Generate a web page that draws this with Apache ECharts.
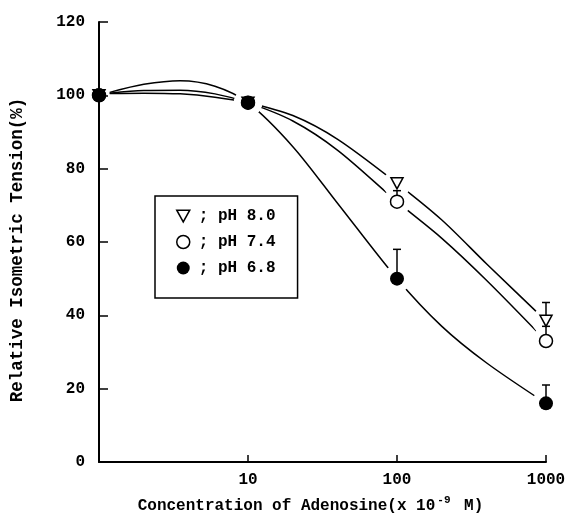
<!DOCTYPE html>
<html>
<head>
<meta charset="utf-8">
<script src="https://cdn.jsdelivr.net/npm/echarts@6/dist/echarts.min.js"></script>
<style>
  html, body { margin: 0; padding: 0; background: #fff; }
  #chart { width: 570px; height: 524px; }
</style>
</head>
<body>
<div id="chart"></div>
<script>
// measured points
const conc = [1, 10, 100, 1000];
const ph80 = [100, 98, 76, 38.5];
const ph74 = [100, 98, 71, 33];
const ph68 = [100, 98, 50, 16];
// upper end of the error bars (null = none drawn)
const ph80Err = [null, null, null, 43.5];
const ph74Err = [null, null, 74, 37];
const ph68Err = [null, null, 58, 21];

// fitted curves
const curveX = [1.18, 2, 3.5, 6, 10, 20, 40, 100, 200, 400, 1000];
const curve80 = [100.5, 100.6, 100.4, 99.5, 98, 94.5, 88, 76, 66, 54, 38.5];
const curve74 = [100.6, 101.3, 101.4, 100.4, 98, 93, 85, 71, 61, 49.5, 33];
const curve68 = [100.8, 103, 104, 102.5, 98, 86, 70.5, 50, 37, 27, 16];

const yTicks = [0, 20, 40, 60, 80, 100, 120];

const FONT = 'Liberation Mono';
const zip = (xs, ys) => xs.map((x, i) => [x, ys[i]]);
const errData = (ys, tops) => conc.map((x, i) => [x, ys[i], tops[i]]).filter(d => d[2] != null);

const chart = echarts.init(document.getElementById('chart'));

function curve(name, ys) {
  return {
    type: 'line', name: name, data: zip(curveX, ys), smooth: 0.3,
    showSymbol: false, symbol: 'none', silent: true, z: 2,
    lineStyle: { color: '#000', width: 1.5 }
  };
}
function mask(ys) {
  // white halo so the curves stop short of the markers
  return {
    type: 'scatter', data: zip(conc, ys).slice(1), symbol: 'circle', symbolSize: 28,
    itemStyle: { color: '#fff', opacity: 1 }, silent: true, z: 3
  };
}
function errBars(ys, tops) {
  return {
    type: 'custom', data: errData(ys, tops), z: 4, silent: true,
    renderItem: function (params, api) {
      const p0 = api.coord([api.value(0), api.value(1)]);
      const p1 = api.coord([api.value(0), api.value(2)]);
      const st = { stroke: '#000', lineWidth: 1.5 };
      return {
        type: 'group', children: [
          { type: 'line', shape: { x1: p0[0], y1: p0[1], x2: p1[0], y2: p1[1] }, style: st },
          { type: 'line', shape: { x1: p1[0] - 4, y1: p1[1], x2: p1[0] + 4, y2: p1[1] }, style: st }
        ]
      };
    }
  };
}

chart.setOption({
  animation: false,
  backgroundColor: '#fff',
  grid: { left: 99, right: 24, top: 22, bottom: 62 },
  legend: {
    left: 155, top: 196, orient: 'vertical', selectedMode: false,
    borderColor: '#000', borderWidth: 1.5, padding: [12, 22, 22, 21],
    itemWidth: 13, itemHeight: 13, itemGap: 10,
    formatter: '; {name}',
    textStyle: { fontFamily: FONT, fontSize: 16, fontWeight: 'bold', color: '#000', lineHeight: 16, padding: [0, 0, 0, 4] },
    data: [
      { name: 'pH 8.0', icon: 'path://M0,0L10,0L5,9Z', itemStyle: { color: '#fff', borderColor: '#000', borderWidth: 1.5 } },
      { name: 'pH 7.4', icon: 'circle', itemStyle: { color: '#fff', borderColor: '#000', borderWidth: 1.5 } },
      { name: 'pH 6.8', icon: 'circle', itemStyle: { color: '#000' } }
    ]
  },
  xAxis: {
    type: 'log', logBase: 10, min: 1, max: 1000,
    name: 'Concentration of Adenosine(x 10{sup|-9} M)',
    nameLocation: 'middle', nameGap: 33,
    nameTextStyle: {
      fontFamily: FONT, fontSize: 16, fontWeight: 'bold', color: '#000', padding: [0, 24, 0, 0],
      rich: { sup: { fontFamily: FONT, fontSize: 11, fontWeight: 'bold', color: '#000', padding: [0, 4, 10, 2] } }
    },
    axisLine: { lineStyle: { color: '#000', width: 2 } },
    axisTick: { inside: true, length: 7, lineStyle: { color: '#000', width: 1.5 } },
    minorTick: { show: false },
    splitLine: { show: false },
    axisLabel: {
      margin: 10, fontFamily: FONT, fontSize: 16, fontWeight: 'bold', color: '#000',
      formatter: v => (v === 1 ? '' : String(v))
    }
  },
  yAxis: {
    type: 'value', min: 0, max: 120, interval: 20,
    name: 'Relative Isometric Tension(%)',
    nameLocation: 'middle', nameGap: 72, nameRotate: 90,
    nameTextStyle: { fontFamily: FONT, fontSize: 17.5, fontWeight: 'bold', color: '#000', padding: [0, 16, 0, 0] },
    axisLine: { show: true, lineStyle: { color: '#000', width: 2 } },
    axisTick: { show: true, inside: true, length: 9, lineStyle: { color: '#000', width: 1.5 } },
    splitLine: { show: false },
    axisLabel: {
      margin: 14, fontFamily: FONT, fontSize: 16, fontWeight: 'bold', color: '#000',
      formatter: v => (yTicks.includes(v) ? String(v) : '')
    }
  },
  series: [
    curve('c80', curve80),
    curve('c74', curve74),
    curve('c68', curve68),
    mask(ph80), mask(ph74), mask(ph68),
    errBars(ph80, ph80Err), errBars(ph74, ph74Err), errBars(ph68, ph68Err),
    {
      type: 'scatter', name: 'pH 8.0', data: zip(conc, ph80), z: 5,
      symbol: 'triangle', symbolRotate: 180, symbolSize: [12, 11],
      itemStyle: { color: '#fff', borderColor: '#000', borderWidth: 1.5, opacity: 1 }
    },
    {
      type: 'scatter', name: 'pH 7.4', data: zip(conc, ph74), z: 6,
      symbol: 'circle', symbolSize: 13,
      itemStyle: { color: '#fff', borderColor: '#000', borderWidth: 1.5, opacity: 1 }
    },
    {
      type: 'scatter', name: 'pH 6.8', data: zip(conc, ph68), z: 7,
      symbol: 'circle', symbolSize: 14,
      itemStyle: { color: '#000', opacity: 1 }
    }
  ]
});
</script>
</body>
</html>
